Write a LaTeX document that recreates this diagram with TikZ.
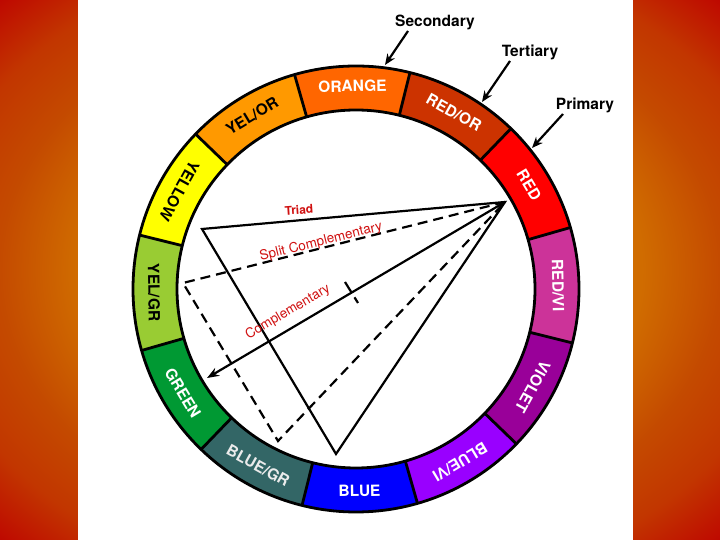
\documentclass[tikz,border=0pt]{standalone}
\usepackage{fontspec}
\setmainfont{TeX Gyre Heros}
\usetikzlibrary{arrows.meta}
\definecolor{bgA}{HTML}{E08600}
\definecolor{bgB}{HTML}{D06C00}
\definecolor{bgC}{HTML}{C44A00}
\definecolor{bgD}{HTML}{C23600}
\definecolor{bgE}{HTML}{BE0600}
\pgfdeclareradialshading{bgshade}{\pgfpoint{0bp}{0bp}}{color(0bp)=(bgA); color(39bp)=(bgB); color(50bp)=(bgC); color(60bp)=(bgD); color(71bp)=(bgE)}
\definecolor{cR}{HTML}{FF0000}
\definecolor{cRO}{HTML}{CC3300}
\definecolor{cO}{HTML}{FF6600}
\definecolor{cYO}{HTML}{FF9900}
\definecolor{cY}{HTML}{FFFF00}
\definecolor{cYG}{HTML}{99CC33}
\definecolor{cG}{HTML}{009933}
\definecolor{cBG}{HTML}{336666}
\definecolor{cB}{HTML}{0000FF}
\definecolor{cBV}{HTML}{9900FF}
\definecolor{cV}{HTML}{990099}
\definecolor{cRV}{HTML}{CC3399}
\definecolor{lblred}{HTML}{D01010}
\newcommand\ringseg[2]{\fill[#2] (#1:223) arc[start angle=#1, end angle=#1+30, radius=223] -- ({#1+30}:179) arc[start angle=#1+30, end angle=#1, radius=179] -- cycle;}
\begin{document}
\begin{tikzpicture}[x=1pt,y=1pt,
  ringlbl/.style={font=\bfseries\fontsize{15.5}{16}\selectfont, inner sep=0pt},
  ringline/.style={line width=2.8pt, black},
  solidln/.style={line width=2.2pt, black, line join=miter},
  dashln/.style={line width=2.2pt, black, dash pattern=on 10pt off 6pt},
  callout/.style={font=\bfseries\fontsize{15.5}{16}\selectfont, inner sep=0pt},
  callarrow/.style={line width=2.2pt, -{Stealth[length=11pt,width=9pt]}},
  redlbl/.style={text=lblred, font=\fontsize{13.5}{14}\selectfont, inner sep=0pt}]
\useasboundingbox (0,0) rectangle (720,540);
\begin{scope}
  \clip (0,0) rectangle (720,540);
  \begin{scope}[transform canvas={shift={(360,270)}, xscale=7.2, yscale=5.4}]
    \pgfuseshading{bgshade}
  \end{scope}
\end{scope}
\fill[white] (78,0) rectangle (633,540);

\begin{scope}[shift={(356,251)}]
  \ringseg{16}{cR}
  \ringseg{46}{cRO}
  \ringseg{76}{cO}
  \ringseg{106}{cYO}
  \ringseg{136}{cY}
  \ringseg{166}{cYG}
  \ringseg{196}{cG}
  \ringseg{226}{cBG}
  \ringseg{256}{cB}
  \ringseg{286}{cBV}
  \ringseg{316}{cV}
  \ringseg{346}{cRV}
  \draw[ringline] (0,0) circle[radius=223];
  \draw[ringline] (0,0) circle[radius=179];
  \foreach \b in {16,46,...,346} \draw[ringline] (\b:179) -- (\b:223);

  \node[ringlbl, text=white, rotate=-59] (lRED) at (31:202) {RED};
  \node[ringlbl, text=white, rotate=-29] (lREDOR) at (61:202) {RED/OR};
  \node[ringlbl, text=white, rotate=1] (lORANGE) at (91:203) {ORANGE};
  \node[ringlbl, text=black, rotate=31] (lYELOR) at (121:202) {YEL/OR};
  \node[ringlbl, text=black, rotate=241] (lYELLOW) at (151:202) {YELLOW};
  \node[ringlbl, text=black, rotate=271] (lYELGR) at (181:202) {YEL/GR};
  \node[ringlbl, text=white, rotate=301] (lGREEN) at (211:202) {GREEN};
  \node[ringlbl, text=white!92!black, rotate=331] (lBLUEGR) at (241:202) {BLUE/GR};
  \node[ringlbl, text=white, rotate=1] (lBLUE) at (271:202) {BLUE};
  \node[ringlbl, text=white, rotate=211] (lBLUEVI) at (301:202) {BLUE/VI};
  \node[ringlbl, text=white, rotate=241] (lVIOLET) at (331:202) {VIOLET};
  \node[ringlbl, text=white, rotate=-89] (lREDVI) at (1:202) {RED/VI};
\end{scope}

% key points
\coordinate (A) at (505,338);
\coordinate (T1) at (202,311);
\coordinate (T2) at (336,86);
\coordinate (S1) at (183,257);
\coordinate (S2) at (278,99);
\coordinate (Ctip) at (207,162);
\coordinate (K1) at (345,258);
\coordinate (K2) at (358,237);

\draw[solidln] (A) -- (T1) -- (T2) -- cycle;
\draw[dashln] (A) -- (S1) -- (S2) -- cycle;
\draw[line width=2.2pt, -{Stealth[length=12pt,width=9pt]}] (A) -- (Ctip);
\draw[line width=2.2pt, dash pattern=on 12pt off 6pt] (K1) -- (K2);

\node[redlbl, font=\bfseries\fontsize{12}{13}\selectfont, rotate=4] (triad) at (299,330) {Triad};
\node[redlbl, rotate=14] (split) at (321,298) {Split Complementary};
\node[redlbl, rotate=30.5] (comp) at (288,228) {Complementary};

% callouts
\node[callout] (sec) at (435,518) {Secondary};
\node[callout] (ter) at (530,488) {Tertiary};
\node[callout] (pri) at (585,435) {Primary};
\coordinate (secS) at (408,509);
\coordinate (secE) at (385,475);
\coordinate (terS) at (510,479);
\coordinate (terE) at (482,438);
\coordinate (priS) at (563,426);
\coordinate (priE) at (532,392);
\draw[callarrow] (secS) -- (secE);
\draw[callarrow] (terS) -- (terE);
\draw[callarrow] (priS) -- (priE);
\end{tikzpicture}
\end{document}
